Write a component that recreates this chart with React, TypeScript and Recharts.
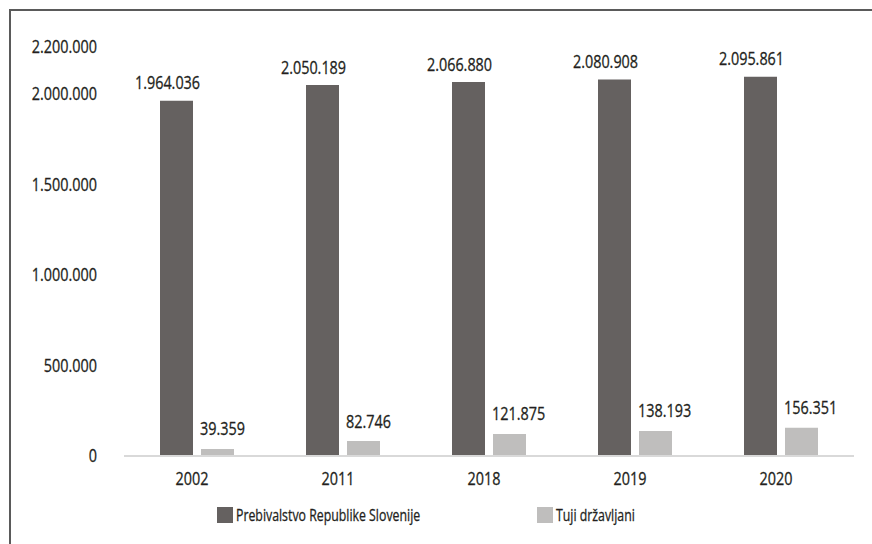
import { BarChart, Bar, XAxis, YAxis, LabelList } from 'recharts';

const years = ['2002', '2011', '2018', '2019', '2020'];
const residents = [1964036, 2050189, 2066880, 2080908, 2095861];
const foreigners = [39359, 82746, 121875, 138193, 156351];
const yTicks = [0, 500000, 1000000, 1500000, 2000000, 2200000];

const seriesNames = ['Prebivalstvo Republike Slovenije', 'Tuji državljani'];
const seriesColors = ['#656160', '#bfbebd'];

// no condensed font is installed, so squeeze Open Sans horizontally
const FONT = "'Open Sans', 'Noto Sans', sans-serif";
const SQUEEZE = 0.8;
const TEXT = '#231f20';

const data = years.map((year, i) => ({
  year,
  residents: residents[i],
  foreigners: foreigners[i],
}));

const fmt = (v: number) => String(v).replace(/\B(?=(\d{3})+(?!\d))/g, '.');

function NarrowText({ x, y, anchor, children }: { x: number; y: number; anchor: 'start' | 'middle' | 'end'; children: any }) {
  return (
    <text
      transform={`translate(${x},${y}) scale(${SQUEEZE},1)`}
      x={0}
      y={0}
      textAnchor={anchor}
      fill={TEXT}
      stroke={TEXT}
      strokeWidth={0.3}
      fontSize={18}
      fontFamily={FONT}
    >
      {children}
    </text>
  );
}

function YTick(props: any) {
  const { y, payload } = props;
  const top = payload.value === yTicks[yTicks.length - 1];
  return (
    <NarrowText x={97} y={y + (top ? -5 : 6)} anchor="end">
      {fmt(payload.value)}
    </NarrowText>
  );
}

function XTick(props: any) {
  const { x, y, payload } = props;
  return (
    <NarrowText x={x - 5} y={y + 21} anchor="middle">
      {payload.value}
    </NarrowText>
  );
}

function darkLabel(props: any) {
  const { x, y, width, value } = props;
  return (
    <NarrowText x={x + width / 2 - 9} y={y - 11.5} anchor="middle">
      {fmt(value)}
    </NarrowText>
  );
}

function lightLabel(props: any) {
  const { x, y, value } = props;
  return (
    <NarrowText x={x - 1} y={y - 13.5} anchor="start">
      {fmt(value)}
    </NarrowText>
  );
}

const legendLeft = [217, 537];

export default function App() {
  return (
    <div style={{ position: 'absolute', left: 0, top: 0, width: 872, height: 544, overflow: 'hidden', background: '#fff' }}>
      <div
        style={{
          position: 'absolute',
          left: 9,
          top: 9,
          width: 920,
          height: 600,
          border: '2px solid #5a5a5a',
        }}
      />
      <div style={{ position: 'absolute', left: 0, top: 0 }}>
        <BarChart
          width={872}
          height={544}
          data={data}
          margin={{ top: 58, right: 18, bottom: 0, left: 0 }}
          barSize={33}
          barGap={8}
        >
          <XAxis
            dataKey="year"
            height={88}
            axisLine={{ stroke: '#d9d9d9', strokeWidth: 2 }}
            tickLine={false}
            tick={<XTick />}
            interval={0}
          />
          <YAxis
            width={124}
            domain={[0, 2200000]}
            ticks={yTicks}
            axisLine={false}
            tickLine={false}
            tick={<YTick />}
            interval={0}
          />
          <Bar dataKey="residents" name={seriesNames[0]} fill={seriesColors[0]} isAnimationActive={false}>
            <LabelList dataKey="residents" content={darkLabel} />
          </Bar>
          <Bar dataKey="foreigners" name={seriesNames[1]} fill={seriesColors[1]} isAnimationActive={false}>
            <LabelList dataKey="foreigners" content={lightLabel} />
          </Bar>
        </BarChart>
      </div>
      {seriesNames.map((name, i) => (
        <div
          key={name}
          style={{
            position: 'absolute',
            left: legendLeft[i],
            top: 507,
            display: 'flex',
            alignItems: 'center',
            fontFamily: FONT,
            fontSize: 16,
            color: TEXT,
            lineHeight: '16px',
            whiteSpace: 'nowrap',
          }}
        >
          <span style={{ display: 'inline-block', width: 16, height: 16, background: seriesColors[i], marginRight: 3 }} />
          <span
            style={{
              display: 'inline-block',
              transform: 'scale(0.77,1)',
              transformOrigin: 'left center',
              WebkitTextStroke: `0.3px ${TEXT}`,
            }}
          >
            {name}
          </span>
        </div>
      ))}
    </div>
  );
}
